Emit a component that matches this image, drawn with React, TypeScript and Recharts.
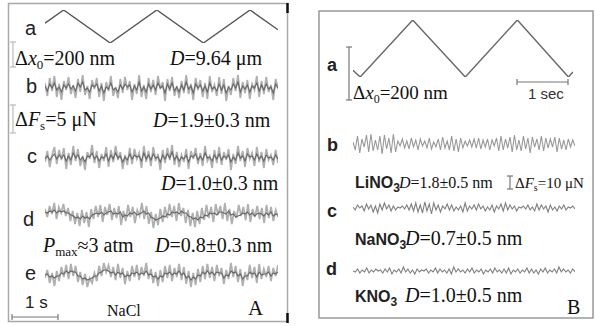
import React from 'react';
import { LineChart, Line, XAxis, YAxis } from 'recharts';

// Panel A drive signal: time (s) vs normalised displacement (0 trough, 1 peak)
const driveTimeA = [0, 0.4, 1.4, 2.4, 3.4, 4.4, 5.0];
const driveA = [0.6, 1, 0, 1, 0, 1, 0.4];

// Panel B drive signal
const driveTimeB = [0, 0.14, 1.17, 2.2, 3.22, 4.22, 4.31];
const driveB = [0.12, 0, 1, 0, 1, 0, 0.09];

// Panel A friction traces (offset from mean, arbitrary units): raw + filtered
const aRawB = [5, -8, 10, -3, 12, -9, 4, -12, 7, -2, 11, -6, 3, -10, 9, -4, 13, -7, 2, -11, 8, -1, 10, -9, 5, -13, 6, -3, 12, -8, 1, -10, 9, -5, 11, -2, 7, -12, 4, -6, 13, -9, 3, -11, 10, -4, 8, -7, 12, -1, 6, -13, 9, -3, 11, -8, 2, -10, 7, -5, 13, -6, 4, -12, 10, -2, 8, -9, 5, -11, 12, -4, 3, -8, 11, -6, 9, -13, 2, -7, 10, -3, 13, -10, 6, -5, 8, -11, 4, -2, 12, -9, 7, -6, 11, -4, 3, -12, 9, -1];
const aMeanB = [2, -3, 4, 0, 5, -2, 1, -4, 3, 0, 4, -1, 2, -3, 5, 1, 6, -2, 0, -4, 3, 1, 4, -3, 2, -5, 1, -1, 5, -2, 0, -4, 3, -1, 4, 1, 3, -4, 2, -2, 6, -3, 1, -4, 4, -1, 3, -2, 5, 0, 2, -5, 4, -1, 5, -3, 1, -4, 3, -2, 6, -1, 2, -5, 4, 0, 3, -3, 2, -4, 5, -1, 1, -3, 4, -2, 3, -5, 1, -2, 4, 0, 6, -4, 2, -1, 3, -4, 2, 0, 5, -3, 3, -2, 4, -1, 1, -5, 4, 0];

const aRawC = [-4, 7, -9, 3, 11, -6, 8, -2, 10, -11, 5, -7, 12, -3, 9, -8, 2, -12, 6, -1, 13, -5, 7, -10, 4, -3, 11, -9, 8, -4, 12, -2, 6, -11, 3, -7, 10, -6, 9, -1, 5, -10, 12, -4, 7, -8, 11, -3, 4, -12, 8, -5, 10, -2, 13, -7, 6, -9, 3, -4, 9, -11, 7, -1, 10, -6, 5, -8, 12, -3, 2, -10, 8, -5, 11, -7, 6, -2, 9, -12, 4, -6, 12, -3, 7, -9, 10, -1, 5, -8, 11, -4, 6, -10, 9, -2, 3, -7, 8, -5];
const aMeanC = [-1, 2, -2, 1, 4, -1, 3, 0, 3, -3, 2, -2, 5, 0, 3, -2, 1, -4, 2, 1, 5, -1, 2, -3, 1, 0, 4, -3, 3, -1, 5, 0, 2, -4, 1, -2, 4, -1, 3, 1, 2, -3, 5, -1, 3, -2, 4, 0, 1, -4, 3, -1, 4, 0, 6, -2, 2, -3, 1, -1, 3, -4, 2, 1, 4, -2, 2, -2, 5, 0, 1, -3, 3, -1, 4, -2, 2, 0, 3, -4, 1, -2, 5, 0, 2, -3, 4, 1, 2, -2, 4, -1, 2, -3, 3, 0, 1, -2, 3, -1];

const aRawD = [6, -2, 9, 1, 12, -4, 8, 2, 11, -1, 7, -6, 4, -9, 2, -11, 5, -8, 3, -12, 6, -4, 9, -2, 10, -7, 8, 0, 11, -5, 7, -3, 9, -10, 4, -6, 10, -2, 8, -8, 5, -1, 12, -4, 9, -9, 3, -13, 1, -10, 6, -7, 8, -3, 11, -2, 9, -6, 12, -1, 7, -8, 5, -11, 2, -12, 4, -9, 7, -5, 10, -3, 8, -7, 11, 0, 9, -4, 12, -6, 6, -9, 4, -3, 10, -1, 8, -5, 11, -7, 6, -2, 9, -4, 7, -8, 10, -3, 8, -6, 5, -2];
const aMeanD = [3, 2, 4, 3, 5, 2, 4, 3, 4, 2, 2, 0, -1, -3, -2, -4, -1, -3, -2, -4, 0, 1, 2, 1, 3, 0, 2, 3, 4, 1, 2, 1, 3, -2, 0, -1, 2, 1, 3, 0, 1, 2, 4, 1, 2, -2, -3, -5, -4, -3, -1, -2, 1, 0, 3, 2, 3, 1, 4, 2, 2, -1, -2, -4, -3, -5, -2, -3, 0, -1, 2, 1, 2, 0, 3, 3, 2, 1, 4, 0, 1, -2, -1, 0, 2, 1, 3, 0, 2, -1, 1, 2, 1, -1, 2, 0, 3, -1, 1, 0];

const aRawE = [-3, 5, -8, 2, -11, 4, -6, 8, -2, 10, -4, 11, -1, 9, -7, 3, -10, 1, -12, -3, -8, 2, -6, 9, -1, 12, 3, 10, -2, 8, -5, 11, -3, 7, -9, 4, -6, 9, -2, 10, -5, 8, -1, 12, -4, 6, -8, 3, -11, 5, -7, 9, -3, 10, -6, 7, -2, 11, -5, 8, -9, 4, -12, 2, -10, 6, -7, 9, -4, 11, -3, 8, -6, 10, -1, 7, -9, 5, -4, 12, -2, 9, -7, 6, -11, 3, -5, 10, -3, 8, -8, 11, -4, 6, -2, 9, -6, 7, -1, 10];
const aMeanE = [0, 1, -2, -1, -3, -1, -1, 2, 1, 4, 2, 4, 3, 3, -1, -1, -4, -3, -5, -4, -3, -1, -1, 2, 3, 5, 5, 4, 2, 3, 0, 3, 1, 2, -2, 0, -1, 2, 1, 3, 0, 2, 1, 4, 0, 1, -2, -1, -4, -1, -2, 2, 1, 3, 0, 2, 1, 4, 0, 2, -3, -1, -5, -2, -4, 0, -1, 3, 1, 4, 1, 3, 0, 3, 2, 2, -3, 0, -1, 4, 2, 3, -1, 1, -4, -1, -1, 3, 1, 2, -2, 3, 0, 1, 1, 3, -1, 2, 1, 3];

// Panel B friction traces (LiNO3, NaNO3, KNO3)
const bLiNO3 = [2, -6, 8, -9, 5, -3, 9, -8, 10, -7, 4, -6, 8, -10, 9, -5, 6, -9, 10, -8, 3, -2, 5, -4, 3, -5, 6, -3, 4, -6, 5, -2, 3, -4, 6, -5, 2, -3, 5, -6, 7, -4, 3, -6, 8, -7, 5, -8, 6, -4, 3, -2, 4, -3, 5, -4, 6, -5, 4, -3, 5, -6, 4, -2, 6, -7, 8, -6, 5, -4, 7, -8, 9, -6, 4, -7, 8, -5, 6, -9, 7, -3, 5, -6, 8, -7, 6, -4, 5, -3, 7, -8, 6, -5, 4, -6, 5, -3, 4, -2];
const bNaNO3 = [1, -2, 3, 0, 2, -3, 4, -1, 3, -4, 2, -5, 4, -2, 5, -1, 3, -3, 2, -2, 1, 0, 2, -1, 3, -2, 4, -3, 5, -4, 3, -5, 6, -3, 4, -6, 5, -2, 3, -4, 2, -1, 4, -2, 3, -3, 1, -2, 2, -4, 5, -3, 2, -1, 3, -2, 4, -1, 2, -3, 1, -2, 3, -4, 2, -1, 4, -3, 5, -2, 3, -1, 2, -3, 1, 0, 2, -1, 3, -2, 1, -3, 4, -2, 3, -1, 2, -4, 3, -2, 1, -3, 2, -1, 3, -2, 1, 0, 2, -1];
const bKNO3 = [0, -1, 2, -2, 1, -1, 3, -2, 1, -1, 2, 0, 1, -2, 2, -1, 3, -3, 1, -1, 2, -2, 4, -1, 2, -2, 1, -3, 2, -1, 1, 0, 2, -2, 1, -1, 3, -2, 2, -1, 1, -2, 2, -3, 4, -1, 2, -1, 1, -2, 2, -1, 3, -2, 1, -1, 2, -3, 1, -1, 2, -2, 3, -1, 1, -2, 2, -2, 3, -3, 1, -1, 2, -2, 1, -1, 3, -2, 2, -2, 1, -3, 2, -1, 3, -2, 1, -1, 2, -2, 4, -1, 2, -1, 1, -2, 2, -1];

const serif = '"Liberation Serif", "Times New Roman", serif';
const sans = '"Liberation Sans", Arial, sans-serif';
const noMargin = { top: 0, right: 0, bottom: 0, left: 0 };

interface BoxProps {
  left: number;
  top: number;
  width: number;
  height: number;
}

// triangular drive, time on x
const Drive: React.FC<BoxProps & { t: number[]; v: number[]; color: string }> = ({ left, top, width, height, t, v, color }) => {
  const data = t.map((time, i) => ({ t: time, v: v[i] }));
  return (
    <div style={{ position: 'absolute', left, top }}>
      <LineChart width={width} height={height} data={data} margin={noMargin}>
        <XAxis dataKey="t" type="number" domain={[t[0], t[t.length - 1]]} hide />
        <YAxis type="number" domain={[0, 1]} hide />
        <Line dataKey="v" stroke={color} strokeWidth={1.4} dot={false} isAnimationActive={false} />
      </LineChart>
    </div>
  );
};

// one noisy trace, samples evenly spaced
const Noise: React.FC<BoxProps & { values: number[]; range: number; color: string; sw: number }> = ({
  left, top, width, height, values, range, color, sw,
}) => {
  const data = values.map((v, i) => ({ i, v }));
  return (
    <div style={{ position: 'absolute', left, top }}>
      <LineChart width={width} height={height} data={data} margin={noMargin}>
        <XAxis dataKey="i" type="number" domain={[0, values.length - 1]} hide />
        <YAxis type="number" domain={[-range, range]} hide allowDataOverflow />
        <Line dataKey="v" stroke={color} strokeWidth={sw} dot={false} isAnimationActive={false} />
      </LineChart>
    </div>
  );
};

const light = '#b0b0b0';
const dark = '#666';

const pairsA = [
  { raw: aRawB, mean: aMeanB, center: 88 },
  { raw: aRawC, mean: aMeanC, center: 158 },
  { raw: aRawD, mean: aMeanD, center: 215 },
  { raw: aRawE, mean: aMeanE, center: 275 },
];

const tracesB = [
  { values: bLiNO3, center: 144, color: '#999' },
  { values: bNaNO3, center: 208, color: '#808080' },
  { values: bKNO3, center: 271, color: '#808080' },
];

const VBar = ({ x, y1, y2, color }: { x: number; y1: number; y2: number; color: string }) => (
  <g stroke={color} strokeWidth={1.2}>
    <line x1={x} x2={x} y1={y1} y2={y2} />
    <line x1={x - 3} x2={x + 3} y1={y1} y2={y1} />
    <line x1={x - 3} x2={x + 3} y1={y2} y2={y2} />
  </g>
);

const HBar = ({ y, x1, x2, color }: { y: number; x1: number; x2: number; color: string }) => (
  <g stroke={color} strokeWidth={1.2}>
    <line x1={x1} x2={x2} y1={y} y2={y} />
    <line x1={x1} x2={x1} y1={y - 3} y2={y + 3} />
    <line x1={x2} x2={x2} y1={y - 3} y2={y + 3} />
  </g>
);

const App: React.FC = () => (
  <div style={{ position: 'absolute', left: 0, top: 0, width: 595, height: 326, background: '#fff', overflow: 'hidden' }}>
    {/* panel A */}
    <Drive left={45} top={10} width={233} height={33} t={driveTimeA} v={driveA} color="#555" />
    {pairsA.map((p, k) => (
      <React.Fragment key={k}>
        <Noise left={45} top={p.center - 15} width={233} height={30} values={p.raw} range={15} color={light} sw={1.8} />
        <Noise left={45} top={p.center - 15} width={233} height={30} values={p.mean} range={15} color={dark} sw={1.1} />
      </React.Fragment>
    ))}

    {/* panel B */}
    <Drive left={353} top={20} width={220} height={57} t={driveTimeB} v={driveB} color="#666" />
    {tracesB.map((p, k) => (
      <Noise key={k} left={353} top={p.center - 12} width={222} height={24} values={p.values} range={12} color={p.color} sw={1.1} />
    ))}

    <svg width={595} height={326} style={{ position: 'absolute', left: 0, top: 0, pointerEvents: 'none' }}>
      {/* frames */}
      <rect x={8.5} y={3.5} width={279} height={318} fill="none" stroke="#a8a8a8" strokeWidth={1.5} />
      <line x1={287.5} x2={287.5} y1={3} y2={13} stroke="#111" strokeWidth={2.5} />
      <line x1={287.5} x2={287.5} y1={313} y2={323} stroke="#111" strokeWidth={2.5} />
      <rect x={319} y={11} width={274} height={307} fill="none" stroke="#999" strokeWidth={1.5} />

      {/* panel A labels */}
      <g fontFamily={sans} fontSize={20} fill="#222">
        <text x={25} y={35}>a</text>
        <text x={26} y={93}>b</text>
        <text x={27} y={163}>c</text>
        <text x={23} y={226}>d</text>
        <text x={25} y={280}>e</text>
        <text x={25} y={308} fontSize={17}>1 s</text>
      </g>
      <VBar x={13} y1={42} y2={67} color="#bbb" />
      <VBar x={13} y1={105} y2={133} color="#bbb" />
      <HBar y={317} x1={12} x2={58} color="#777" />
      <g fontFamily={serif} fontSize={20} fill="#111">
        <text x={15} y={65}>Δ<tspan fontStyle="italic">x</tspan><tspan dy={4} fontSize={13}>0</tspan><tspan dy={-4}>=200 nm</tspan></text>
        <text x={170} y={65}><tspan fontStyle="italic">D</tspan>=9.64 μm</text>
        <text x={15} y={126}>Δ<tspan fontStyle="italic">F</tspan><tspan dy={4} fontSize={13}>s</tspan><tspan dy={-4}>=5 μN</tspan></text>
        <text x={153} y={127}><tspan fontStyle="italic">D</tspan>=1.9±0.3 nm</text>
        <text x={161} y={190}><tspan fontStyle="italic">D</tspan>=1.0±0.3 nm</text>
        <text x={43} y={252}><tspan fontStyle="italic">P</tspan><tspan dy={4} fontSize={13}>max</tspan><tspan dy={-4}>≈3 atm</tspan></text>
        <text x={155} y={252}><tspan fontStyle="italic">D</tspan>=0.8±0.3 nm</text>
        <text x={107} y={316} fontSize={16}>NaCl</text>
        <text x={248} y={315} fontSize={21}>A</text>
      </g>

      {/* panel B labels */}
      <g fontFamily={sans} fontSize={18} fontWeight="bold" fill="#222">
        <text x={327} y={71}>a</text>
        <text x={327} y={151}>b</text>
        <text x={327} y={217}>c</text>
        <text x={326} y={275}>d</text>
      </g>
      <VBar x={349} y1={47} y2={100} color="#777" />
      <HBar y={82} x1={517} x2={568} color="#777" />
      <text x={528} y={99} fontFamily={sans} fontSize={15} fill="#333">1 sec</text>
      <g fontFamily={sans} fontSize={16} fontWeight="bold" fill="#222">
        <text x={355} y={188}>LiNO<tspan dy={4} fontSize={12}>3</tspan></text>
        <text x={355} y={245}>NaNO<tspan dy={4} fontSize={12}>3</tspan></text>
        <text x={355} y={302}>KNO<tspan dy={4} fontSize={12}>3</tspan></text>
      </g>
      <VBar x={510} y1={176} y2={189} color="#777" />
      <g fontFamily={serif} fontSize={19} fill="#111">
        <text x={353} y={99}>Δ<tspan fontStyle="italic">x</tspan><tspan dy={4} fontSize={12}>0</tspan><tspan dy={-4}>=200 nm</tspan></text>
        <text x={399} y={188} fontSize={16}><tspan fontStyle="italic">D</tspan>=1.8±0.5 nm</text>
        <text x={515} y={188} fontSize={15}>Δ<tspan fontStyle="italic">F</tspan><tspan dy={3} fontSize={10}>s</tspan><tspan dy={-3}>=10 μN</tspan></text>
        <text x={405} y={245} fontSize={20}><tspan fontStyle="italic">D</tspan>=0.7±0.5 nm</text>
        <text x={405} y={302} fontSize={20}><tspan fontStyle="italic">D</tspan>=1.0±0.5 nm</text>
        <text x={567} y={314} fontSize={20}>B</text>
      </g>
    </svg>
  </div>
);

export default App;
